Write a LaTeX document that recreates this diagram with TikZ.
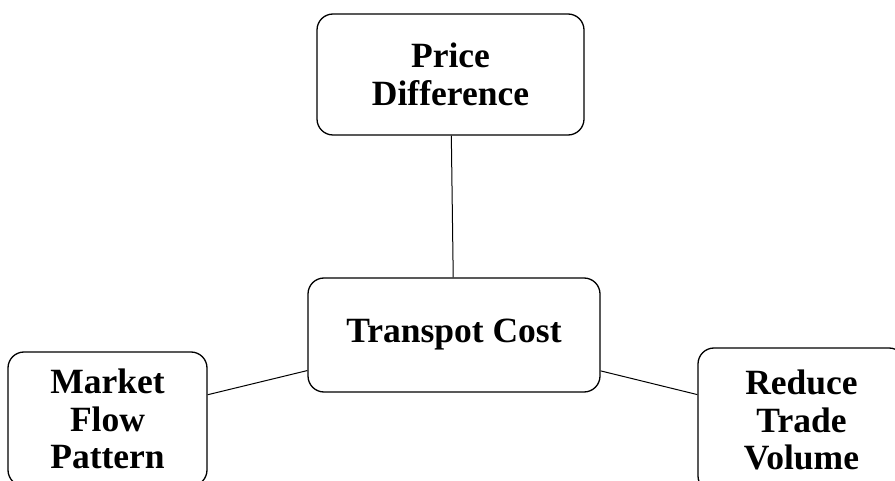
\documentclass[tikz,border=0pt]{standalone}
\usepackage{fontspec}
\setmainfont{Liberation Serif}

\begin{document}
\begin{tikzpicture}[x=1pt,y=1pt]

        \useasboundingbox (0,0) rectangle (895,-481);
        \clip (0,0) rectangle (895,-481);

        \begin{scope}[every node/.style={draw,rectangle,rounded corners=16pt,line width=1.3pt,
            align=center,font=\fontsize{35.5}{37.5}\selectfont\bfseries,inner sep=0pt}]
          \node[minimum width=267pt,minimum height=121pt] (price)  at (450.5,-74.5) {Price\\Difference};
          \node[minimum width=292pt,minimum height=114pt] (cost)   at (454,-335)    {Transpot Cost};
          \node[minimum width=199pt,minimum height=134pt] (market) at (107.5,-419)  {Market\\Flow\\Pattern};
          \node[minimum width=207pt,minimum height=144pt] (trade)  at (801.5,-420)  {Reduce\\Trade\\Volume};
        \end{scope}

        \begin{scope}[every path/.style={line width=1pt}]
          \draw (price) -- (cost);
          \draw (cost) -- (market);
          \draw (cost) -- (trade);
        \end{scope}

      \end{tikzpicture}
\end{document}
